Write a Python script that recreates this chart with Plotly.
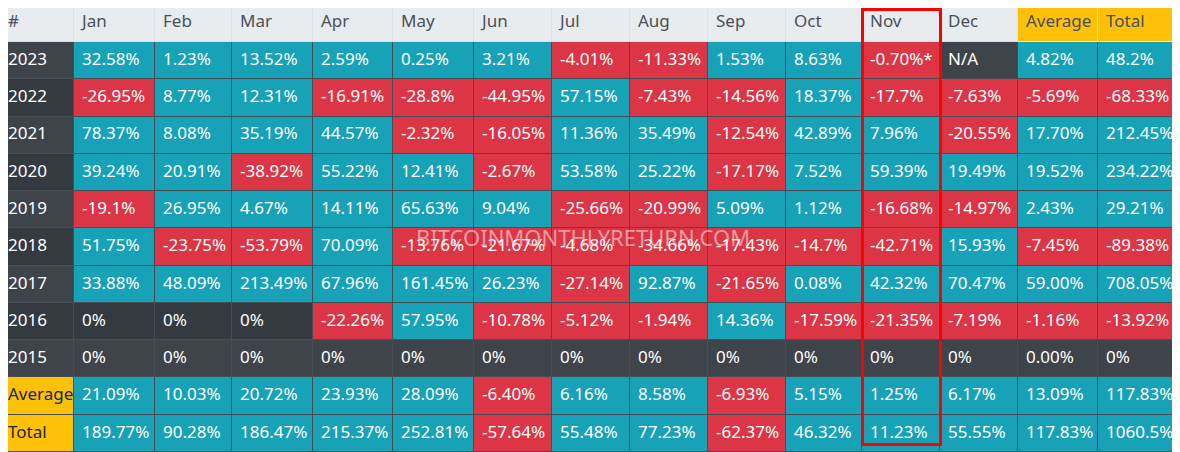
import plotly.graph_objects as go

headers = ["#", "Jan", "Feb", "Mar", "Apr", "May", "Jun", "Jul", "Aug", "Sep", "Oct", "Nov", "Dec", "Average", "Total"]
row_labels = ["2023", "2022", "2021", "2020", "2019", "2018", "2017", "2016", "2015", "Average", "Total"]

r2023 = ["32.58%", "1.23%", "13.52%", "2.59%", "0.25%", "3.21%", "-4.01%", "-11.33%", "1.53%", "8.63%", "-0.70%*", "N/A", "4.82%", "48.2%"]
r2022 = ["-26.95%", "8.77%", "12.31%", "-16.91%", "-28.8%", "-44.95%", "57.15%", "-7.43%", "-14.56%", "18.37%", "-17.7%", "-7.63%", "-5.69%", "-68.33%"]
r2021 = ["78.37%", "8.08%", "35.19%", "44.57%", "-2.32%", "-16.05%", "11.36%", "35.49%", "-12.54%", "42.89%", "7.96%", "-20.55%", "17.70%", "212.45%"]
r2020 = ["39.24%", "20.91%", "-38.92%", "55.22%", "12.41%", "-2.67%", "53.58%", "25.22%", "-17.17%", "7.52%", "59.39%", "19.49%", "19.52%", "234.22%"]
r2019 = ["-19.1%", "26.95%", "4.67%", "14.11%", "65.63%", "9.04%", "-25.66%", "-20.99%", "5.09%", "1.12%", "-16.68%", "-14.97%", "2.43%", "29.21%"]
r2018 = ["51.75%", "-23.75%", "-53.79%", "70.09%", "-13.76%", "-21.67%", "-4.68%", "-34.66%", "-17.43%", "-14.7%", "-42.71%", "15.93%", "-7.45%", "-89.38%"]
r2017 = ["33.88%", "48.09%", "213.49%", "67.96%", "161.45%", "26.23%", "-27.14%", "92.87%", "-21.65%", "0.08%", "42.32%", "70.47%", "59.00%", "708.05%"]
r2016 = ["0%", "0%", "0%", "-22.26%", "57.95%", "-10.78%", "-5.12%", "-1.94%", "14.36%", "-17.59%", "-21.35%", "-7.19%", "-1.16%", "-13.92%"]
r2015 = ["0%", "0%", "0%", "0%", "0%", "0%", "0%", "0%", "0%", "0%", "0%", "0%", "0.00%", "0%"]
r_avg = ["21.09%", "10.03%", "20.72%", "23.93%", "28.09%", "-6.40%", "6.16%", "8.58%", "-6.93%", "5.15%", "1.25%", "6.17%", "13.09%", "117.83%"]
r_tot = ["189.77%", "90.28%", "186.47%", "215.37%", "252.81%", "-57.64%", "55.48%", "77.23%", "-62.37%", "46.32%", "11.23%", "55.55%", "117.83%", "1060.5%"]

rows = [r2023, r2022, r2021, r2020, r2019, r2018, r2017, r2016, r2015, r_avg, r_tot]

highlight_col = "Nov"
watermark = "BITCOINMONTHLYRETURN.COM"

# ---- styling ----
TEAL = "#17a2b8"
RED = "#dc3545"
DARK = "#343a40"
STRIPE = "#3e444a"
YELLOW = "#ffc107"
HEAD = "#e9ecef"
BORDER = "#454d55"
FONT = "Noto Sans"
FS = 17

# layout geometry (page pixels; the page body adds an 8px margin)
col_widths = [74, 81, 77, 81, 80, 81, 78, 78, 78, 78, 76, 78, 78, 80, 82]
header_top, header_bottom, row_h = 3, 42, 37.27
PAGE_W, PAGE_H, OFF = 1180, 452, 8
W, H = PAGE_W - OFF, PAGE_H - OFF

x_edges = [0]
for w in col_widths:
    x_edges.append(x_edges[-1] + w)
y_edges = [header_top, header_bottom] + [header_bottom + row_h * (i + 1) for i in range(len(rows))]

CODE = {TEAL: 0, RED: 1, DARK: 2, STRIPE: 3, YELLOW: 4, HEAD: 5}
colorscale = [[0.0, TEAL], [0.2, RED], [0.4, DARK], [0.6, STRIPE], [0.8, YELLOW], [1.0, HEAD]]


def value_of(s):
    try:
        return float(s.replace("%", "").replace("*", ""))
    except ValueError:
        return None


def cell_color(s, i):
    v = value_of(s)
    if v is None or v == 0:
        return STRIPE if i % 2 == 0 else DARK
    return TEAL if v > 0 else RED


z = []
z.append([CODE[YELLOW] if h in ("Average", "Total") else CODE[HEAD] for h in headers])
for i, lab in enumerate(row_labels):
    if lab in ("Average", "Total"):
        first = YELLOW
    else:
        first = STRIPE if i % 2 == 0 else DARK
    z.append([CODE[first]] + [CODE[cell_color(s, i)] for s in rows[i]])

# text positions
tx, ty, tt, tc = [], [], [], []
y_mid = [(y_edges[k] + y_edges[k + 1]) / 2 for k in range(len(y_edges) - 1)]
for c, h in enumerate(headers):
    tx.append(x_edges[c] + 8)
    ty.append(y_mid[0])
    tt.append(h)
    tc.append("#495057")
for i, lab in enumerate(row_labels):
    tx.append(x_edges[0] + 8)
    ty.append(y_mid[i + 1])
    tt.append(lab)
    tc.append("#212529" if lab in ("Average", "Total") else "#ffffff")
    for c, s in enumerate(rows[i]):
        tx.append(x_edges[c + 1] + 8)
        ty.append(y_mid[i + 1])
        tt.append(s)
        tc.append("#ffffff")

fig = go.Figure()
fig.add_trace(go.Heatmap(
    x=x_edges, y=y_edges, z=z, colorscale=colorscale, zmin=0, zmax=5,
    showscale=False, xgap=1, ygap=1, hoverinfo="skip",
))
fig.add_trace(go.Scatter(
    x=tx, y=ty, text=tt, mode="text", textposition="middle right",
    textfont=dict(family=FONT, size=FS, color=tc), hoverinfo="skip", cliponaxis=False,
))

# light borders behind header row
fig.add_shape(type="rect", xref="x", yref="y", x0=x_edges[0], x1=x_edges[-1],
              y0=header_top, y1=header_bottom, fillcolor="#dee2e6",
              line=dict(width=0), layer="below")

hc = headers.index(highlight_col)
fig.add_shape(type="rect", xref="x", yref="y",
              x0=x_edges[hc] + 0.5, x1=x_edges[hc + 1] + 0.5,
              y0=OFF + 1.5, y1=444.5,
              line=dict(color="#ff0000", width=3), layer="above")

fig.add_annotation(text=watermark, xref="x", yref="y", x=583, y=237,
                   showarrow=False,
                   font=dict(family=FONT, size=22, color="rgba(255,255,255,0.5)"))

fig.update_layout(
    width=W, height=H, margin=dict(l=0, r=0, t=0, b=0),
    paper_bgcolor="#ffffff", plot_bgcolor=BORDER, showlegend=False,
    xaxis=dict(range=[OFF, PAGE_W], visible=False, fixedrange=True),
    yaxis=dict(range=[PAGE_H, OFF], visible=False, fixedrange=True),
)

fig.write_html("out.html")
